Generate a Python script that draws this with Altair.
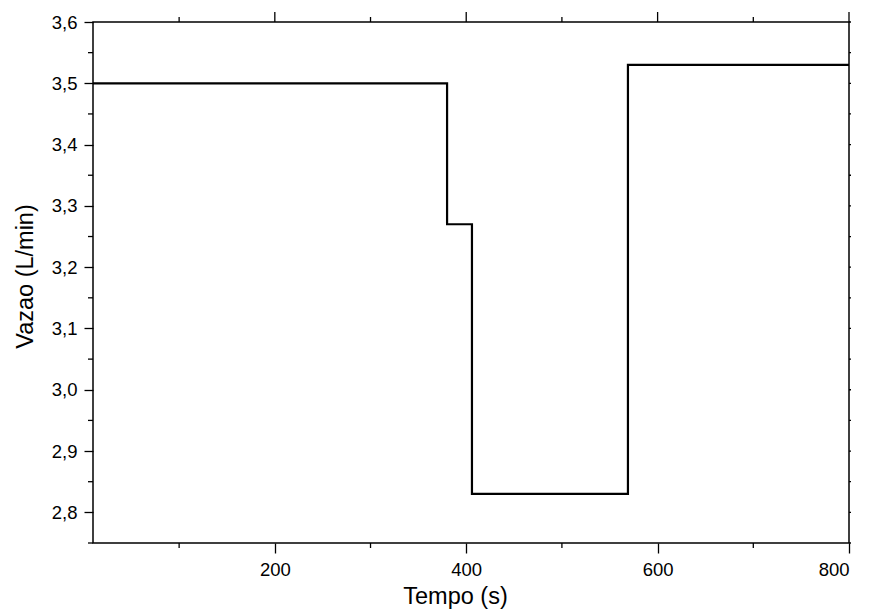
import altair as alt
import pandas as pd

tempo = [10, 380, 406, 569, 800]
vazao = [3.50, 3.27, 2.83, 3.53, 3.53]
x_major = [200, 400, 600, 800]
x_minor = [100, 300, 500, 700]
y_major = [2.8, 2.9, 3.0, 3.1, 3.2, 3.3, 3.4, 3.5, 3.6]
y_minor = [2.75, 2.85, 2.95, 3.05, 3.15, 3.25, 3.35, 3.45, 3.55]

W, H = 756, 521
FONT = "Liberation Sans"
xs = alt.Scale(domain=[10, 800], nice=False, zero=False)
ys = alt.Scale(domain=[2.75, 3.6], nice=False, zero=False)

xaxis = alt.Axis(values=x_major, title="Tempo (s)", tickSize=10,
                 labelPadding=7, titlePadding=6, titleX=362, format="d")
yaxis = alt.Axis(values=y_major, title="Vazao (L/min)", tickSize=9,
                 labelPadding=7, titlePadding=14, titleY=254,
                 labelExpr="replace(format(datum.value, '.1f'), '.', ',')")

line = alt.Chart(pd.DataFrame({"t": tempo, "v": vazao})).mark_line(
    interpolate="step-after", color="black", strokeWidth=2.2
).encode(
    x=alt.X("t:Q", scale=xs, axis=xaxis),
    y=alt.Y("v:Q", scale=ys, axis=yaxis),
)

def xticks(vals, y0, y1):
    return alt.Chart(pd.DataFrame({"t": vals})).mark_rule(color="black", strokeWidth=1.3).encode(
        x=alt.X("t:Q", scale=xs, axis=xaxis), y=alt.value(y0), y2=alt.value(y1))

def yticks(vals, x0, x1):
    return alt.Chart(pd.DataFrame({"v": vals})).mark_rule(color="black", strokeWidth=1.3).encode(
        y=alt.Y("v:Q", scale=ys, axis=yaxis), x=alt.value(x0), x2=alt.value(x1))

chart = alt.layer(
    line,
    xticks(x_minor, H, H + 5),
    xticks(x_major, -10, 0),
    xticks(x_minor, -5, 0),
    yticks(y_minor, -5, 0),
    yticks(y_major + y_minor, W, W + 2),
).properties(
    width=W, height=H,
    autosize=alt.AutoSizeParams(type="none"),
    padding={"left": 85, "top": 14, "right": 12, "bottom": 70},
).configure_view(
    stroke="black", strokeWidth=1.5
).configure_axis(
    grid=False, domain=False, tickColor="black", tickWidth=1.3,
    labelFont=FONT, labelFontSize=18.5, labelColor="black",
    titleFont=FONT, titleFontSize=23.5, titleColor="black", titleFontWeight="normal",
)

chart.save("out.html", embed_options={"renderer": "svg", "actions": False})
